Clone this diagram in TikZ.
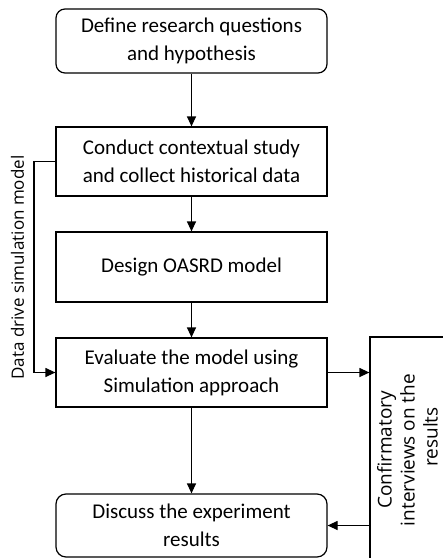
\documentclass[tikz,border=0pt]{standalone}
\usepackage{fontspec}
\setmainfont{Carlito}
\newfontfamily\osans{Open Sans}
\usetikzlibrary{arrows.meta}
\begin{document}
\begin{tikzpicture}[x=1pt,y=-1pt,
  line width=1.2pt,
  boxbase/.style={draw=black, minimum width=271pt, inner sep=0pt, align=center,
    font=\fontsize{21}{28}\selectfont},
  flowarrow/.style={-{Triangle[length=10pt,width=9pt]}, line width=1.2pt}]
\useasboundingbox (0,0) rectangle (443,558);
\fill[white] (0,0) rectangle (443,558);
\clip (0,0) rectangle (443,558);
\node[boxbase, rounded corners=9pt, minimum height=64pt] (b1) at (191.5,41) {Define research questions\\and hypothesis};
\node[boxbase, minimum height=69pt] (b2) at (191.5,161.5) {Conduct contextual study\\and collect historical data};
\node[boxbase, minimum height=70pt] (b3) at (191.5,267) {Design OASRD model};
\node[boxbase, minimum height=69pt] (b4) at (191.5,372.5) {Evaluate the model using\\Simulation approach};
\node[boxbase, rounded corners=10pt, minimum height=63pt] (b5) at (191.5,525.5) {Discuss the experiment\\results};
\node[draw=black, minimum width=86pt, minimum height=234pt, inner sep=0pt] (rb) at (413,454) {};
\node[rotate=90, align=center, inner sep=0pt, font=\osans\fontsize{19}{23}\selectfont] (rt) at (407.5,450) {Confirmatory\\interviews on the\\\hspace*{26pt}results};
\node[rotate=90, inner sep=0pt, font=\osans\fontsize{17}{20}\selectfont] (lt) at (17.5,267.5) {Data drive simulation model};
\coordinate (lc) at (34,161.5);
\draw[flowarrow] (b1) -- (b2);
\draw[flowarrow] (b2) -- (b3);
\draw[flowarrow] (b3) -- (b4);
\draw[flowarrow] (b4) -- (b5);
\draw[flowarrow] (b2.west) -- (lc) |- (b4.west);
\draw[flowarrow] (b4.east) -- (b4.east -| rb.west);
\draw[flowarrow] (rb.west |- b5.east) -- (b5.east);
\end{tikzpicture}
\end{document}
